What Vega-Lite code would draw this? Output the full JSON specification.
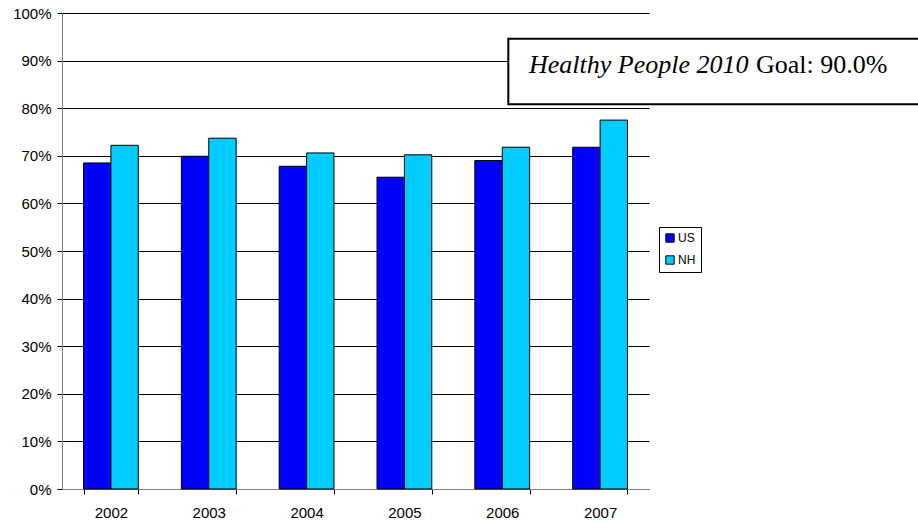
{
  "$schema": "https://vega.github.io/schema/vega-lite/v6.json",
  "width": 587,
  "height": 476,
  "autosize": {"type": "none"},
  "padding": {"left": 62, "top": 13, "right": 269, "bottom": 34},
  "background": "white",
  "config": {
    "view": {"stroke": null},
    "font": "Liberation Sans"
  },
  "datasets": {
    "bars": [
      {"year": "2002", "group": "US", "rate": 0.685},
      {"year": "2002", "group": "NH", "rate": 0.722},
      {"year": "2003", "group": "US", "rate": 0.699},
      {"year": "2003", "group": "NH", "rate": 0.737},
      {"year": "2004", "group": "US", "rate": 0.678},
      {"year": "2004", "group": "NH", "rate": 0.706},
      {"year": "2005", "group": "US", "rate": 0.655},
      {"year": "2005", "group": "NH", "rate": 0.702},
      {"year": "2006", "group": "US", "rate": 0.690},
      {"year": "2006", "group": "NH", "rate": 0.718},
      {"year": "2007", "group": "US", "rate": 0.718},
      {"year": "2007", "group": "NH", "rate": 0.775}
    ],
    "box": [
      {"x0": 0.7603, "x1": 1.47, "y0": 0.8084, "y1": 0.946}
    ],
    "italicLabel": [
      {"x": 0.7956, "y": 0.8746, "text": "Healthy People 2010"}
    ],
    "plainLabel": [
      {"x": 1.1823, "y": 0.8746, "text": "Goal: 90.0%"}
    ]
  },
  "layer": [
    {
      "data": {"name": "bars"},
      "mark": {"type": "bar", "stroke": "black", "strokeWidth": 1},
      "encoding": {
        "x": {
          "field": "year",
          "type": "nominal",
          "scale": {"paddingInner": 0.44, "paddingOuter": 0.22},
          "axis": {
            "title": null,
            "labelAngle": 0,
            "labelFontSize": 15,
            "labelColor": "black",
            "tickBand": "extent",
            "tickSize": 5,
            "tickColor": "#000000",
            "domainColor": "#808080",
            "labelPadding": 11
          }
        },
        "xOffset": {
          "field": "group",
          "type": "nominal",
          "scale": {"domain": ["US", "NH"], "paddingInner": 0, "paddingOuter": 0}
        },
        "y": {
          "field": "rate",
          "type": "quantitative",
          "scale": {"domain": [0, 1]},
          "axis": {
            "title": null,
            "format": ".0%",
            "values": [0, 0.1, 0.2, 0.3, 0.4, 0.5, 0.6, 0.7, 0.8, 0.9, 1.0],
            "labelFontSize": 15,
            "labelColor": "black",
            "tickSize": 5,
            "tickColor": "#000000",
            "domainColor": "#808080",
            "gridColor": "#000000",
            "gridOpacity": 1,
            "gridWidth": 1,
            "labelPadding": 6
          }
        },
        "color": {
          "field": "group",
          "type": "nominal",
          "scale": {"domain": ["US", "NH"], "range": ["#0000FF", "#00CCFF"]},
          "legend": {
            "title": null,
            "orient": "none",
            "legendX": 597,
            "legendY": 214,
            "symbolType": "square",
            "symbolSize": 70,
            "symbolStrokeColor": "black",
            "symbolStrokeWidth": 1,
            "symbolOpacity": 1,
            "labelFontSize": 12,
            "labelColor": "black",
            "labelOffset": 2,
            "rowPadding": 8,
            "padding": 5,
            "strokeColor": "black",
            "fillColor": "white"
          }
        }
      }
    },
    {
      "data": {"name": "box"},
      "mark": {"type": "rect", "fill": "white", "stroke": "black", "strokeWidth": 2},
      "encoding": {
        "x": {"field": "x0", "type": "quantitative", "scale": {"domain": [0, 1]}, "axis": null},
        "x2": {"field": "x1"},
        "y": {"field": "y0", "type": "quantitative"},
        "y2": {"field": "y1"}
      }
    },
    {
      "data": {"name": "italicLabel"},
      "mark": {"type": "text", "align": "left", "baseline": "alphabetic", "font": "Liberation Serif", "fontSize": 26, "fontStyle": "italic", "color": "black"},
      "encoding": {
        "x": {"field": "x", "type": "quantitative", "scale": {"domain": [0, 1]}, "axis": null},
        "y": {"field": "y", "type": "quantitative"},
        "text": {"field": "text"}
      }
    },
    {
      "data": {"name": "plainLabel"},
      "mark": {"type": "text", "align": "left", "baseline": "alphabetic", "font": "Liberation Serif", "fontSize": 26, "color": "black"},
      "encoding": {
        "x": {"field": "x", "type": "quantitative", "scale": {"domain": [0, 1]}, "axis": null},
        "y": {"field": "y", "type": "quantitative"},
        "text": {"field": "text"}
      }
    }
  ],
  "resolve": {"scale": {"x": "independent"}}
}
